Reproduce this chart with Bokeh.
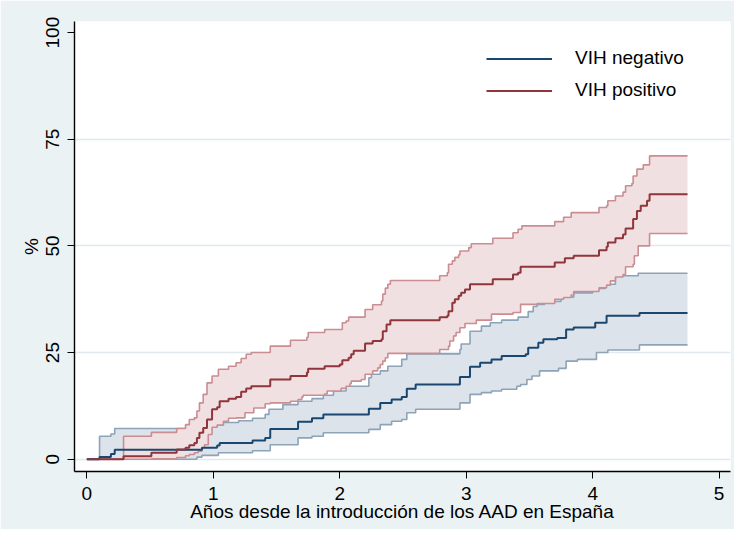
import numpy as np
from bokeh.plotting import figure
from bokeh.models import Range1d, FixedTicker, Legend, LegendItem
from bokeh.embed import file_html
from bokeh.resources import INLINE

# ---- data (years since HAART introduction, cumulative %) ----
neg_t = [0, 0.10, 0.19, 0.22, 0.91, 1.03, 1.05, 1.31, 1.41, 1.45, 1.67, 1.78, 1.87, 2.23, 2.32, 2.41, 2.49, 2.53, 2.60, 2.95, 3.03, 3.11, 3.20, 3.28, 3.47, 3.49, 3.57, 3.61, 3.72, 3.79, 3.85, 4.02, 4.11, 4.37, 4.75]
neg_s = [0, 0.5, 1.2, 2.2, 2.7, 3.2, 3.8, 4.4, 5.0, 7.1, 8.8, 9.6, 10.5, 11.8, 13.2, 14.0, 14.6, 16.5, 17.5, 19.3, 21.7, 22.6, 23.4, 24.2, 24.6, 26.1, 27.3, 28.1, 28.4, 30.4, 30.9, 32.0, 33.6, 34.3, 34.3]

neg_hi_t = [0, 0.10, 0.19, 0.22, 0.90, 1.05, 1.20, 1.31, 1.41, 1.44, 1.55, 1.67, 1.78, 1.87, 1.95, 2.05, 2.23, 2.25, 2.32, 2.38, 2.49, 2.53, 2.95, 2.96, 3.03, 3.12, 3.19, 3.28, 3.41, 3.49, 3.53, 3.56, 3.62, 3.75, 3.85, 4.00, 4.10, 4.18, 4.36, 4.75]
neg_hi = [0, 5.4, 5.9, 7.2, 8.0, 8.6, 9.0, 9.6, 10.5, 11.7, 12.8, 13.6, 14.2, 15.0, 16.0, 17.1, 19.1, 19.9, 20.7, 21.8, 23.4, 24.7, 25.7, 27.0, 30.0, 31.2, 32.0, 32.6, 33.3, 34.6, 35.8, 36.3, 37.0, 38.0, 39.0, 40.0, 41.0, 43.0, 43.6, 43.6]

neg_lo_t = [0, 0.87, 0.91, 1.04, 1.31, 1.45, 1.67, 1.78, 1.87, 2.23, 2.32, 2.41, 2.49, 2.53, 2.60, 2.95, 3.03, 3.12, 3.20, 3.28, 3.40, 3.43, 3.48, 3.52, 3.58, 3.73, 3.79, 3.88, 4.03, 4.12, 4.37, 4.75]
neg_lo = [0, 0.5, 0.9, 1.5, 2.0, 3.4, 5.0, 5.4, 6.2, 7.0, 8.1, 8.9, 9.3, 10.9, 11.7, 13.2, 15.2, 15.6, 16.0, 16.4, 17.1, 17.5, 18.7, 19.5, 20.7, 21.3, 23.0, 23.4, 25.0, 25.6, 26.8, 26.8]

pos_t = [0, 0.29, 0.51, 0.71, 0.78, 0.81, 0.85, 0.87, 0.89, 0.92, 0.95, 0.99, 1.03, 1.05, 1.12, 1.18, 1.22, 1.26, 1.30, 1.45, 1.61, 1.74, 1.75, 1.88, 2.00, 2.02, 2.07, 2.09, 2.11, 2.20, 2.26, 2.33, 2.34, 2.37, 2.40, 2.79, 2.85, 2.86, 2.89, 2.91, 2.94, 2.96, 2.99, 3.03, 3.21, 3.37, 3.41, 3.43, 3.70, 3.78, 3.85, 4.05, 4.11, 4.12, 4.18, 4.24, 4.26, 4.32, 4.35, 4.38, 4.43, 4.45, 4.75]
pos_s = [0, 0.7, 1.5, 2.3, 2.7, 3.3, 3.8, 5.0, 6.2, 7.3, 9.3, 11.7, 12.2, 13.6, 14.2, 14.6, 15.8, 16.6, 17.1, 18.7, 19.5, 20.3, 21.2, 21.8, 22.2, 23.2, 23.8, 24.6, 25.4, 27.1, 27.7, 28.1, 30.0, 31.6, 32.6, 33.3, 33.6, 34.7, 36.7, 37.5, 38.3, 39.0, 39.8, 41.0, 42.2, 43.3, 43.7, 45.1, 46.1, 47.1, 47.7, 49.0, 49.8, 50.8, 51.8, 52.7, 54.1, 56.3, 58.2, 59.4, 60.6, 62.1, 62.1]

pos_hi_t = [0, 0.29, 0.51, 0.71, 0.78, 0.81, 0.85, 0.87, 0.89, 0.92, 0.95, 0.99, 1.04, 1.12, 1.18, 1.22, 1.26, 1.30, 1.45, 1.61, 1.74, 1.75, 1.88, 2.02, 2.05, 2.07, 2.20, 2.26, 2.33, 2.34, 2.36, 2.38, 2.40, 2.79, 2.85, 2.86, 2.89, 2.91, 2.94, 2.95, 3.02, 3.04, 3.21, 3.37, 3.41, 3.44, 3.70, 3.77, 3.83, 4.05, 4.11, 4.12, 4.18, 4.24, 4.26, 4.31, 4.32, 4.35, 4.40, 4.45, 4.75]
pos_hi = [0, 5.4, 6.3, 7.2, 8.1, 9.3, 9.7, 11.3, 13.2, 15.2, 17.9, 19.5, 21.1, 21.8, 22.6, 23.6, 24.6, 25.0, 26.5, 27.9, 28.6, 29.7, 30.4, 32.0, 32.4, 33.3, 35.1, 36.2, 37.1, 38.7, 40.1, 41.0, 41.9, 43.0, 43.7, 45.7, 46.5, 47.3, 47.9, 48.8, 49.6, 50.5, 51.8, 53.1, 53.9, 54.7, 55.7, 56.7, 57.8, 59.0, 59.4, 60.6, 61.7, 62.6, 64.1, 64.6, 66.4, 68.0, 69.0, 71.1, 71.1]

pos_lo_t = [0, 0.51, 0.71, 0.78, 0.81, 0.85, 0.88, 0.91, 0.93, 0.96, 0.99, 1.03, 1.08, 1.12, 1.18, 1.25, 1.32, 1.41, 1.45, 1.61, 1.67, 1.70, 1.71, 1.88, 1.90, 2.01, 2.05, 2.08, 2.09, 2.17, 2.20, 2.26, 2.30, 2.32, 2.34, 2.36, 2.38, 2.79, 2.86, 2.87, 2.90, 2.92, 2.95, 2.99, 3.08, 3.20, 3.37, 3.43, 3.56, 3.70, 3.77, 3.83, 3.85, 4.05, 4.11, 4.14, 4.18, 4.24, 4.26, 4.32, 4.33, 4.36, 4.45, 4.75]
pos_lo = [0, 0.1, 0.4, 0.8, 1.1, 1.5, 1.9, 2.7, 3.4, 5.8, 7.5, 8.0, 8.9, 9.6, 9.7, 10.9, 12.0, 13.0, 13.2, 13.6, 14.0, 14.6, 15.0, 15.3, 16.0, 16.6, 17.1, 17.7, 18.3, 18.7, 19.9, 20.7, 21.4, 22.2, 23.0, 23.8, 24.8, 25.7, 26.5, 27.7, 28.9, 29.7, 30.8, 31.8, 32.6, 34.0, 34.4, 36.3, 36.5, 37.5, 37.9, 38.5, 39.3, 40.2, 40.8, 41.8, 42.7, 43.3, 45.1, 45.7, 47.7, 50.0, 52.9, 52.9]

x_ticks = [0, 1, 2, 3, 4, 5]
y_ticks = [0, 25, 50, 75, 100]
grid_ticks = [0, 25, 50, 75]
labels = ["VIH negativo", "VIH positivo"]
x_title = "Años desde la introducción de los AAD en España"
y_title = "%"

NAVY = "#1A476F"
MAROON = "#90353B"
FONT = "Liberation Sans"


def band(t_lo, lo, t_hi, hi):
    x = np.union1d(t_lo, t_hi)
    y1 = np.asarray(lo)[np.searchsorted(t_lo, x, side="right") - 1]
    y2 = np.asarray(hi)[np.searchsorted(t_hi, x, side="right") - 1]
    return x, y1, y2


p = figure(width=734, height=529, output_backend="svg", toolbar_location=None,
           x_range=Range1d(-0.098, 5.09), y_range=Range1d(-2.88, 102.6),
           min_border_left=74, min_border_right=4, min_border_top=21,
           min_border_bottom=58)
p.border_fill_color = "#EAF2F3"
p.background_fill_color = "white"
p.outline_line_color = None

# grid
p.xgrid.grid_line_color = None
p.ygrid.ticker = FixedTicker(ticks=grid_ticks)
p.ygrid.grid_line_color = "#DFE9EE"
p.ygrid.grid_line_width = 1.5

# axes
p.xaxis.ticker = FixedTicker(ticks=x_ticks)
p.yaxis.ticker = FixedTicker(ticks=y_ticks)
p.yaxis.major_label_orientation = "vertical"
for ax in (p.xaxis, p.yaxis):
    ax.axis_line_color = "black"
    ax.axis_line_width = 1.4
    ax.major_tick_line_color = "black"
    ax.major_tick_in = 0
    ax.major_tick_out = 7
    ax.minor_tick_line_color = None
    ax.major_label_text_font = FONT
    ax.major_label_text_font_size = "19px"
    ax.major_label_text_color = "black"
    ax.major_label_standoff = 8
    ax.axis_label_text_font = FONT
    ax.axis_label_text_font_size = "19px"
    ax.axis_label_text_font_style = "normal"
    ax.axis_label_text_color = "black"
p.xaxis.axis_label = x_title
p.yaxis.axis_label = y_title
p.xaxis.axis_label_standoff = -2
p.yaxis.axis_label_standoff = 2

# bands
bx, by1, by2 = band(neg_lo_t, neg_lo, neg_hi_t, neg_hi)
p.varea_step(x=bx, y1=by1, y2=by2, step_mode="after", fill_color="#DDE3EA")
p.step(neg_hi_t, neg_hi, mode="after", line_color="#8DA3B8", line_width=1.6)
p.step(neg_lo_t, neg_lo, mode="after", line_color="#8DA3B8", line_width=1.6)

rx, ry1, ry2 = band(pos_lo_t, pos_lo, pos_hi_t, pos_hi)
p.varea_step(x=rx, y1=ry1, y2=ry2, step_mode="after", fill_color="#F0E0E1")
p.step(pos_hi_t, pos_hi, mode="after", line_color="#C98D92", line_width=1.6)
p.step(pos_lo_t, pos_lo, mode="after", line_color="#C98D92", line_width=1.6)

# main curves
l_neg = p.step(neg_t, neg_s, mode="after", line_color=NAVY, line_width=2)
l_pos = p.step(pos_t, pos_s, mode="after", line_color=MAROON, line_width=2)

legend = Legend(items=[LegendItem(label=labels[0], renderers=[l_neg]),
                       LegendItem(label=labels[1], renderers=[l_pos])],
                location=(412, 370), orientation="vertical",
                glyph_width=66, glyph_height=21, label_height=21, spacing=10,
                label_standoff=23, padding=0, margin=0,
                label_text_font=FONT, label_text_font_size="19px",
                label_text_color="black",
                border_line_alpha=0, background_fill_alpha=0)
p.add_layout(legend)

open("out.html", "w").write(file_html(p, INLINE))
